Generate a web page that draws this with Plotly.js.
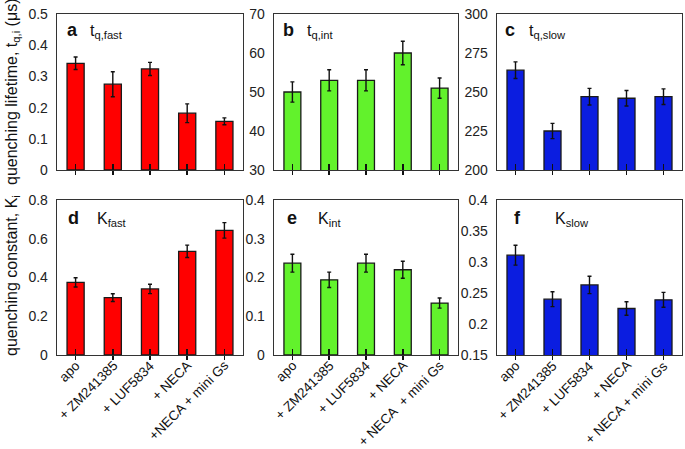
<!DOCTYPE html>
<html>
<head>
<meta charset="utf-8">
<script src="https://cdn.plot.ly/plotly-3.0.1.min.js"></script>
<style>html,body{margin:0;padding:0;background:#fff}#chart{width:685px;height:449px}</style>
</head>
<body>
<div id="chart"></div>
<script>
const categories = ['apo', '+ ZM241385', '+ LUF5834', '+ NECA', '+ NECA + mini Gs'];
const labelsD = ['apo', '+ ZM241385', '+ LUF5834', '+ NECA', '+NECA + mini Gs'];
const labelsE = ['apo', '+ ZM241385', '+ LUF5834', '+ NECA', '+ NECA\u00a0\u00a0+ mini Gs'];
const labelsF = ['apo', '+ ZM241385', '+ LUF5834', '+ NECA', '+ NECA + mini Gs'];

const tFast = [0.342, 0.275, 0.324, 0.182, 0.156];
const tFastErr = [0.02, 0.04, 0.021, 0.03, 0.011];
const tInt = [50, 53, 53, 60, 51];
const tIntErr = [2.6, 2.7, 2.7, 3.0, 2.6];
const tSlow = [264, 225, 247, 246, 247];
const tSlowErr = [5.3, 4.9, 5.3, 5.0, 5.0];
const kFast = [0.375, 0.296, 0.341, 0.535, 0.643];
const kFastErr = [0.024, 0.02, 0.024, 0.032, 0.04];
const kInt = [0.237, 0.194, 0.237, 0.220, 0.134];
const kIntErr = [0.023, 0.02, 0.023, 0.022, 0.013];
const kSlow = [0.311, 0.240, 0.263, 0.225, 0.239];
const kSlowErr = [0.016, 0.012, 0.014, 0.011, 0.012];

const RED = '#ff0000', GREEN = '#62f22c', BLUE = '#0b1de0';
const W = 685, H = 449;
const FONT = 'Arial, "Liberation Sans", sans-serif';
const px = v => v / W;
const py = v => 1 - v / H;

const panels = [
  {y: tFast, e: tFastErr, c: RED, range: [0, 0.5], dtick: 0.1, dom: [57, 243, 14, 170], labels: null},
  {y: tInt, e: tIntErr, c: GREEN, range: [30, 70], dtick: 10, dom: [274, 458, 14, 170], labels: null},
  {y: tSlow, e: tSlowErr, c: BLUE, range: [200, 300], dtick: 25, dom: [497, 682, 14, 170], labels: null},
  {y: kFast, e: kFastErr, c: RED, range: [0, 0.8], dtick: 0.2, dom: [57, 243, 200, 355], labels: labelsD},
  {y: kInt, e: kIntErr, c: GREEN, range: [0, 0.4], dtick: 0.1, dom: [274, 458, 200, 355], labels: labelsE},
  {y: kSlow, e: kSlowErr, c: BLUE, range: [0.15, 0.4], dtick: 0.05, dom: [497, 682, 200, 355], labels: labelsF}
];

const data = [];
const layout = {
  width: W, height: H,
  margin: {l: 0, r: 0, t: 0, b: 0},
  paper_bgcolor: '#fff', plot_bgcolor: '#fff',
  showlegend: false,
  bargap: 0.54,
  font: {family: FONT, size: 14, color: '#222'},
  annotations: []
};

panels.forEach((p, i) => {
  const n = i + 1;
  const xs = n === 1 ? '' : String(n);
  const ovl = String(n + 6);
  data.push({
    type: 'bar', x: categories, y: p.y,
    xaxis: 'x' + xs, yaxis: 'y' + xs,
    marker: {color: p.c, line: {color: '#1a1a1a', width: 1.3}},
    error_y: {type: 'data', array: p.e, visible: true, color: '#111', thickness: 1.4, width: 2},
    hoverinfo: 'skip'
  });
  data.push({
    type: 'scatter', mode: 'markers', x: categories, y: p.y,
    xaxis: 'x' + ovl, yaxis: 'y' + xs,
    marker: {opacity: 0, size: 1}, hoverinfo: 'skip'
  });
  const d = p.dom;
  layout['xaxis' + xs] = {
    domain: [px(d[0]), px(d[1])], anchor: 'y' + xs,
    type: 'category', range: [-0.5, 4.5],
    showline: true, mirror: true, linecolor: '#333', linewidth: 1.3,
    ticks: 'outside', ticklen: 4, tickwidth: 1.6, tickcolor: '#111',
    showgrid: false, zeroline: false,
    tickvals: categories, showticklabels: false
  };
  layout['xaxis' + ovl] = {
    overlaying: 'x' + xs, anchor: 'y' + xs,
    type: 'category', range: [-0.5, 4.5],
    showline: false, showgrid: false, zeroline: false,
    ticks: 'inside', ticklen: 6, tickwidth: 1.6, tickcolor: '#111',
    tickvals: categories, showticklabels: false
  };
  layout['yaxis' + xs] = {
    domain: [py(d[3]), py(d[2])], anchor: 'x' + xs,
    range: p.range, dtick: p.dtick, tick0: p.range[0],
    showline: true, mirror: true, linecolor: '#333', linewidth: 1.3,
    ticks: '', showgrid: false, zeroline: false,
    ticklabelstandoff: 5,
    tickfont: {family: FONT, size: 14, color: '#222'}
  };
  if (p.labels) {
    p.labels.forEach((lab, k) => {
      layout.annotations.push({
        xref: 'x' + xs, yref: 'paper', x: categories[k], y: py(d[3] + 5),
        text: lab, showarrow: false, textangle: -45,
        xanchor: 'right', yanchor: 'top', xshift: 10, yshift: 5,
        font: {family: FONT, size: 13.5, color: '#111'}
      });
    });
  }
});

const panelText = [
  ['a', 72, 't<sub>q,fast</sub>', 88, 30],
  ['b', 288, 't<sub>q,int</sub>', 305, 30],
  ['c', 510, 't<sub>q,slow</sub>', 527, 30],
  ['d', 73, 'K<sub>fast</sub>', 95, 218],
  ['e', 292, 'K<sub>int</sub>', 316, 218],
  ['f', 517, 'K<sub>slow</sub>', 553, 218]
];
panelText.forEach(t => {
  layout.annotations.push({
    xref: 'paper', yref: 'paper', x: px(t[1]), y: py(t[4]),
    text: '<b>' + t[0] + '</b>', showarrow: false,
    xanchor: 'center', yanchor: 'middle',
    font: {family: FONT, size: 18, color: '#111'}
  });
  layout.annotations.push({
    xref: 'paper', yref: 'paper', x: px(t[3]), y: py(t[4] + 2),
    text: t[2], showarrow: false,
    xanchor: 'left', yanchor: 'middle',
    font: {family: FONT, size: 16, color: '#111'}
  });
});

layout.annotations.push({
  xref: 'paper', yref: 'paper', x: px(12), y: py(92),
  text: 'quenching lifetime, t<sub>q,i</sub> (μs)', showarrow: false,
  textangle: -90, xanchor: 'center', yanchor: 'middle',
  font: {family: FONT, size: 16, color: '#111'}
});
layout.annotations.push({
  xref: 'paper', yref: 'paper', x: px(12), y: py(276),
  text: 'quenching constant, K<sub>i</sub>', showarrow: false,
  textangle: -90, xanchor: 'center', yanchor: 'middle',
  font: {family: FONT, size: 16, color: '#111'}
});

Plotly.newPlot('chart', data, layout, {staticPlot: true, displayModeBar: false});
</script>
</body>
</html>
